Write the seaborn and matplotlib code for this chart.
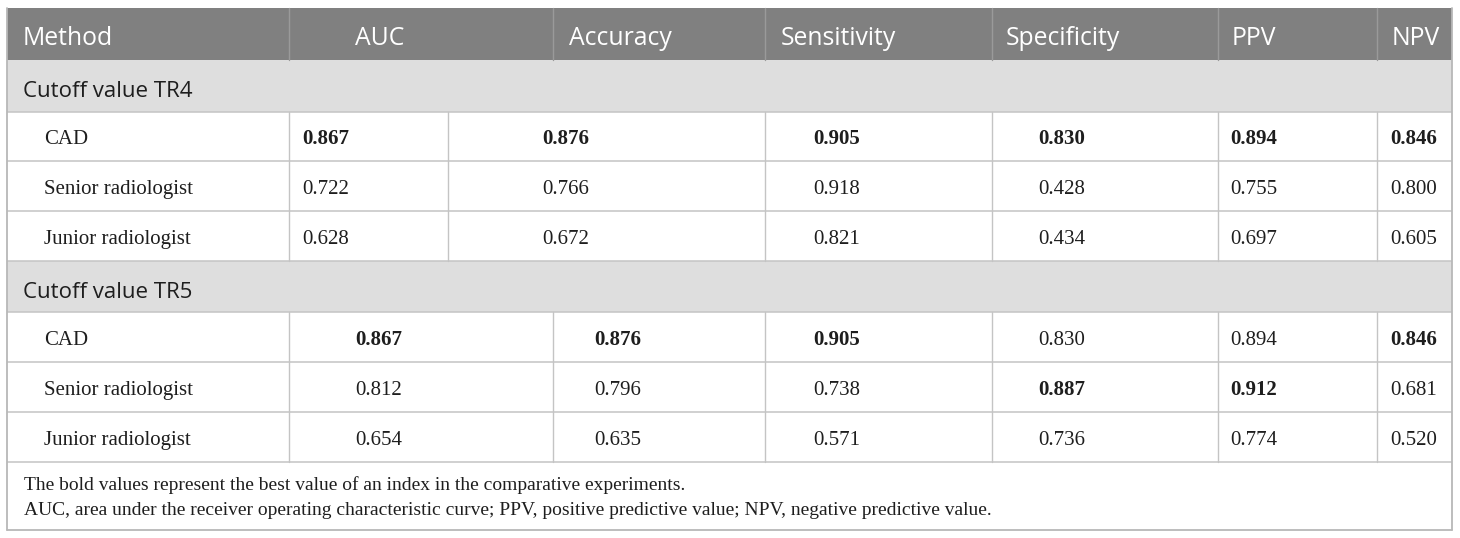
import matplotlib
matplotlib.use("Agg")
import matplotlib.pyplot as plt
import seaborn as sns
from matplotlib.patches import Rectangle

# ---------------- data ----------------
metrics = ["AUC", "Accuracy", "Sensitivity", "Specificity", "PPV", "NPV"]
methods = ["CAD", "Senior radiologist", "Junior radiologist"]
group_labels = ["Cutoff value TR4", "Cutoff value TR5"]

tr4_values = [
    [0.867, 0.876, 0.905, 0.830, 0.894, 0.846],
    [0.722, 0.766, 0.918, 0.428, 0.755, 0.800],
    [0.628, 0.672, 0.821, 0.434, 0.697, 0.605],
]
tr4_bold = [
    [1, 1, 1, 1, 1, 1],
    [0, 0, 0, 0, 0, 0],
    [0, 0, 0, 0, 0, 0],
]
tr5_values = [
    [0.867, 0.876, 0.905, 0.830, 0.894, 0.846],
    [0.812, 0.796, 0.738, 0.887, 0.912, 0.681],
    [0.654, 0.635, 0.571, 0.736, 0.774, 0.520],
]
tr5_bold = [
    [1, 1, 1, 0, 0, 1],
    [0, 0, 0, 1, 1, 0],
    [0, 0, 0, 0, 0, 0],
]
footnotes = [
    "The bold values represent the best value of an index in the comparative experiments.",
    "AUC, area under the receiver operating characteristic curve; PPV, positive predictive value; NPV, negative predictive value.",
]

# ---------------- layout (pixels) ----------------
W, H = 1460, 538
LEFT, RIGHT = 7, 1452
HEADER = (8, 60)
BAND1 = (60, 111.5)
ROWS1 = [111.5, 161, 211, 261]
BAND2 = (261, 312)
ROWS2 = [312, 362, 412, 461.5]
FOOT_BOTTOM = 530

header_div = [289, 553, 765, 992, 1218, 1377]
tr4_div = [289, 448, 765, 992, 1218, 1377]
tr5_div = [289, 553, 765, 992, 1218, 1377]
header_x = [23, 355, 569, 781, 1006, 1232, 1392]
tr4_cx = [326, 566, 837, 1062, 1254, 1414]
tr5_cx = [379, 618, 837, 1062, 1254, 1414]
label_x = 44
foot_y = [490, 515]

HEADER_BG = "#808080"
BAND_BG = "#dedede"
LINE = "#c4c4c4"
BORDER = "#b8b8b8"
TXT = "#1e1e1e"

SANS = ["Open Sans", "DejaVu Sans"]
SERIF = ["Liberation Serif", "DejaVu Serif"]

sns.set_theme(style="white")
fig = plt.figure(figsize=(W / 100, H / 100), dpi=100)
ax = fig.add_axes([0, 0, 1, 1])
ax.set_xlim(0, W)
ax.set_ylim(H, 0)
ax.axis("off")

# backgrounds
ax.add_patch(Rectangle((LEFT, HEADER[0]), RIGHT - LEFT, HEADER[1] - HEADER[0],
                       facecolor=HEADER_BG, edgecolor="none"))
for b in (BAND1, BAND2):
    ax.add_patch(Rectangle((LEFT, b[0]), RIGHT - LEFT, b[1] - b[0],
                           facecolor=BAND_BG, edgecolor="none"))

# horizontal lines
for y in [BAND1[1]] + ROWS1[1:] + [BAND2[1]] + ROWS2[1:]:
    ax.plot([LEFT, RIGHT], [y, y], color=LINE, lw=1.1, solid_capstyle="butt")
ax.plot([LEFT, RIGHT], [FOOT_BOTTOM, FOOT_BOTTOM], color=BORDER, lw=1.3)
ax.plot([LEFT, LEFT], [HEADER[0], FOOT_BOTTOM], color=BORDER, lw=1.3)
ax.plot([RIGHT, RIGHT], [HEADER[0], FOOT_BOTTOM], color=BORDER, lw=1.3)

# vertical dividers
for x in header_div:
    ax.plot([x, x], list(HEADER), color="#9a9a9a", lw=1.0)
for x in tr4_div:
    ax.plot([x, x], [ROWS1[0], ROWS1[-1]], color=LINE, lw=1.0)
for x in tr5_div:
    ax.plot([x, x], [ROWS2[0], ROWS2[-1]], color=LINE, lw=1.0)

# header text
for x, t in zip(header_x, ["Method"] + metrics):
    ax.text(x, HEADER[0] + 37, t, color="white", fontsize=17.8, family=SANS,
            ha="left", va="baseline")

# group bands
for b, lab in zip((BAND1, BAND2), group_labels):
    ax.text(23, b[0] + 37, lab, color=TXT, fontsize=16, family=SANS,
            ha="left", va="baseline")

def draw_rows(rows, values, bold, cxs):
    for i, m in enumerate(methods):
        base = rows[i] + 33
        ax.text(label_x, base, m, color=TXT, fontsize=15, family=SERIF,
                ha="left", va="baseline")
        for j, v in enumerate(values[i]):
            ax.text(cxs[j], base, f"{v:.3f}", color=TXT, fontsize=15, family=SERIF,
                    fontweight="bold" if bold[i][j] else "normal",
                    ha="center", va="baseline")

draw_rows(ROWS1, tr4_values, tr4_bold, tr4_cx)
draw_rows(ROWS2, tr5_values, tr5_bold, tr5_cx)

for y, t in zip(foot_y, footnotes):
    ax.text(24, y, t, color=TXT, fontsize=14, family=SERIF, ha="left", va="baseline")

fig.savefig("out.png", dpi=100, facecolor="white")
